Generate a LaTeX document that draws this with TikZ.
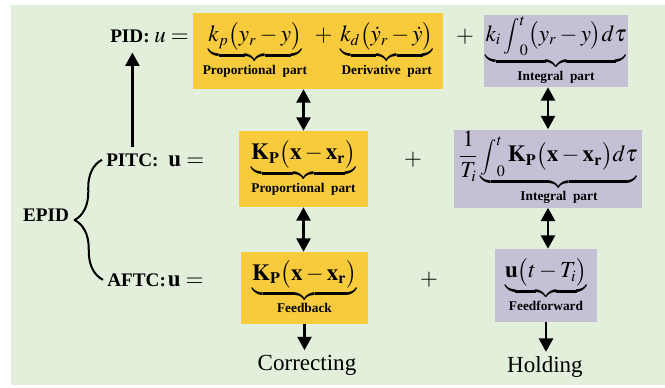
\documentclass[tikz,border=0pt]{standalone}
\usepackage{amsmath}
\usepackage{mathptmx}
\usepackage{fontspec}
\setmainfont{Liberation Serif}
\usetikzlibrary{arrows.meta,decorations.pathreplacing,positioning}

\definecolor{bggreen}{RGB}{226,239,218}
\definecolor{partyellow}{RGB}{247,203,60}
\definecolor{partpurple}{RGB}{197,192,214}

\newcommand{\partlab}[1]{\mbox{\fontsize{10}{11}\selectfont\bfseries #1}}
\newcommand{\tint}{\mathop{\scalebox{0.78}{$\displaystyle\int$}}\nolimits}

\tikzset{
	partbox/.style={inner sep=1pt, font=\LARGE, anchor=center},
	propbox/.style={partbox, fill=partyellow},
	intbox/.style={partbox, fill=partpurple},
	namelab/.style={inner sep=0pt, font=\Large\bfseries},
	eqlab/.style={inner sep=0pt, font=\LARGE},
	arr/.style={line width=1.7pt, -{Triangle[width=10.5pt,length=10pt]}},
	darr/.style={line width=1.7pt, {Triangle[width=10.5pt,length=10pt]}-{Triangle[width=10.5pt,length=10pt]}},
}

\begin{document}
\begin{tikzpicture}[x=0.75pt,y=-0.75pt,line join=round]
	\useasboundingbox (0,0) rectangle (665,387);
	\fill[bggreen] (11,5) rectangle (665,385);
	
	% PID
	\node[namelab, anchor=base west] (pidname) at (110,42) {PID:};
	\node[eqlab, anchor=base west] (pideq) at ([xshift=3pt]pidname.base east) {$u=$};
	\node[propbox, minimum width=187.5pt, minimum height=57pt] (pidP) at (318,51)
		{$\underbrace{k_p\bigl(y_r-y\bigr)}_{\partlab{Proportional\ \ part}}\;+\;\underbrace{k_d\bigl(\dot{y}_r-\dot{y}\bigr)}_{\partlab{Derivative\ \ part}}$};
	\node[eqlab] (pidplus) at (465,37) {$+$};
	\node[intbox, minimum width=106.5pt, minimum height=54pt] (pidI) at (556,51)
		{$\underbrace{k_i\tint_0^t\bigl(y_r-y\bigr)d\tau}_{\partlab{Integral\ \ part}}$};
	
	% PITC
	\node[namelab, anchor=base west] (pitcname) at (106,166) {PITC:};
	\node[eqlab, anchor=base west] (pitceq) at ([xshift=7pt]pitcname.base east) {$\mathbf{u}=$};
	\node[propbox, minimum width=96.75pt, minimum height=57pt] (pitcP) at (303.5,169)
		{$\underbrace{\mathbf{K}_{\mathbf{P}}\bigl(\mathbf{x}-\mathbf{x}_{\mathbf{r}}\bigr)}_{\partlab{Proportional\ \ part}}$};
	\node[eqlab] (pitcplus) at (413,160) {$+$};
	\node[intbox, minimum width=141pt, minimum height=53.25pt] (pitcI) at (548,168.5)
		{$\dfrac{1}{T_i}\underbrace{\tint_0^t\mathbf{K}_{\mathbf{P}}\bigl(\mathbf{x}-\mathbf{x}_{\mathbf{r}}\bigr)d\tau}_{\partlab{Integral\ \ part}}$};
	
	% AFTC
	\node[namelab, anchor=base west] (aftcname) at (107,286) {AFTC:};
	\node[eqlab, anchor=base west] (aftceq) at ([xshift=1pt]aftcname.base east) {$\mathbf{u}=$};
	\node[propbox, minimum width=95.25pt, minimum height=54pt] (aftcB) at (304.5,288)
		{$\underbrace{\mathbf{K}_{\mathbf{P}}\bigl(\mathbf{x}-\mathbf{x}_{\mathbf{r}}\bigr)}_{\partlab{Feedback}}$};
	\node[eqlab] (aftcplus) at (429,280) {$+$};
	\node[intbox, minimum width=76.5pt, minimum height=54.75pt] (aftcF) at (546,285.5)
		{$\underbrace{\mathbf{u}\bigl(t-T_i\bigr)}_{\partlab{Feedforward}}$};
	
	\node[font=\LARGE] (correct) at (307,365) {Correcting};
	\node[font=\LARGE] (hold) at (545,367) {Holding};
	\node[namelab] (epid) at (46,215) {EPID};
	
	% arrows
	\draw[darr] (pitcP.north) -- (pitcP.north |- pidP.south);
	\draw[darr] (pitcP.south) -- (pitcP.south |- aftcB.north);
	\draw[darr] (pitcI.north) -- (pitcI.north |- pidI.south);
	\draw[darr] (pitcI.south) -- (pitcI.south |- aftcF.north);
	\draw[arr] (aftcB.south) -- (aftcB.south |- correct.north);
	\draw[arr] (aftcF.south) -- (aftcF.south |- hold.north);
	\draw[arr, shorten <=4.5pt, shorten >=7.5pt] (pitcname.north) -- (pitcname.north |- pidname.south);
	
	\draw[line width=1.5pt, decorate, decoration={brace, amplitude=21pt}] ([xshift=-3pt]aftcname.west) -- ([xshift=-3pt]pitcname.west);
\end{tikzpicture}
\end{document}
